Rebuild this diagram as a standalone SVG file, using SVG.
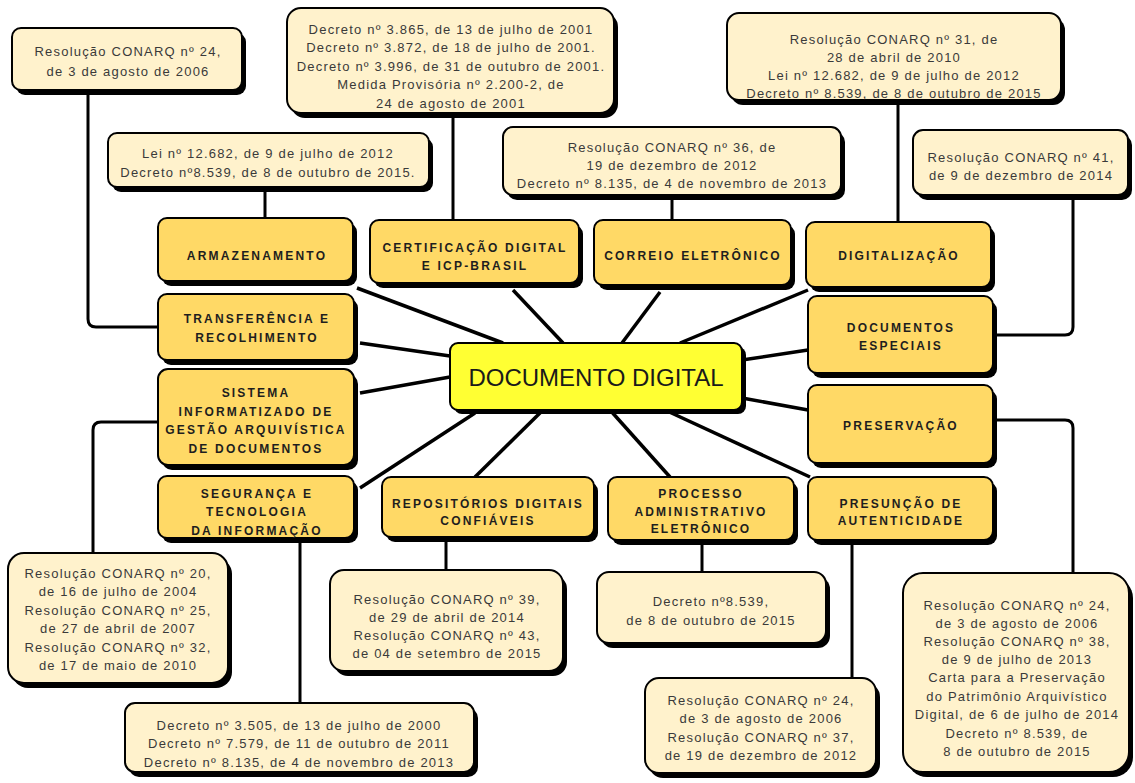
<svg xmlns="http://www.w3.org/2000/svg" width="1135" height="783" viewBox="0 0 1135 783">
<style>
.sh{fill:#000}
.cat{fill:#FFD966;stroke:#000;stroke-width:2}
.law{fill:#FFF2CC;stroke:#000;stroke-width:2}
.ctr{fill:#FFFF33;stroke:#000;stroke-width:2}
.ct{font-family:"Liberation Sans",Arial,sans-serif;font-size:12px;font-weight:bold;fill:#1e1e1e;text-anchor:middle;letter-spacing:2.2px}
.lt{font-family:"Liberation Sans",Arial,sans-serif;font-size:13px;fill:#3a3a3a;text-anchor:middle;letter-spacing:1.2px}
.mt{font-family:"Liberation Sans",Arial,sans-serif;font-size:24px;fill:#1a1a1a;text-anchor:middle}
.sp{stroke:#000;stroke-width:3.5;fill:none}
.el{stroke:#000;stroke-width:3;fill:none}
</style>
<rect width="1135" height="783" fill="#fff"/>
<g id="connectors">
<line class="sp" x1="357" y1="288" x2="503" y2="343"/>
<line class="sp" x1="360" y1="343" x2="450" y2="356"/>
<line class="sp" x1="513" y1="290" x2="563" y2="343"/>
<line class="sp" x1="660" y1="292" x2="622" y2="343"/>
<line class="sp" x1="808" y1="290" x2="680" y2="343"/>
<line class="sp" x1="742" y1="360" x2="808" y2="350"/>
<line class="sp" x1="742" y1="398" x2="808" y2="410"/>
<line class="sp" x1="665" y1="410" x2="810" y2="477"/>
<line class="sp" x1="610" y1="410" x2="670" y2="477"/>
<line class="sp" x1="543" y1="410" x2="475" y2="477"/>
<line class="sp" x1="475" y1="413" x2="360" y2="488"/>
<line class="sp" x1="450" y1="377" x2="360" y2="393"/>
<path class="el" d="M88 95 V319 Q88 327 96 327 H158"/>
<path class="el" d="M265 192 V218"/>
<path class="el" d="M453 118 V220"/>
<path class="el" d="M672 200 V220"/>
<path class="el" d="M898 105 V222"/>
<path class="el" d="M1073 200 V327 Q1073 335 1065 335 H997"/>
<path class="el" d="M997 420 H1065 Q1073 420 1073 428 V573"/>
<path class="el" d="M158 422 H101 Q93 422 93 430 V553"/>
<path class="el" d="M300 543 V703"/>
<path class="el" d="M446 540 V570"/>
<path class="el" d="M702 543 V572"/>
<path class="el" d="M852 543 V678"/>
</g>
<g id="center">
<rect class="sh" x="454" y="347" width="292" height="67" rx="8"/>
<rect class="ctr" x="450" y="343" width="292" height="67" rx="8"/>
<text class="mt" x="596" y="386">DOCUMENTO DIGITAL</text>
</g>
<g id="armazenamento">
<rect class="sh" x="162" y="223" width="195" height="63" rx="9"/>
<rect class="cat" x="158" y="218" width="195" height="63" rx="9"/>
<text class="ct" x="257" y="259.5">ARMAZENAMENTO</text>
</g>
<g id="certificacao">
<rect class="sh" x="374" y="225" width="209" height="63" rx="9"/>
<rect class="cat" x="370" y="220" width="209" height="63" rx="9"/>
<text class="ct" x="475" y="251.5">CERTIFICAÇÃO DIGITAL</text>
<text class="ct" x="475" y="269.5">E ICP-BRASIL</text>
</g>
<g id="correio">
<rect class="sh" x="598" y="225" width="197" height="65" rx="9"/>
<rect class="cat" x="594" y="220" width="197" height="65" rx="9"/>
<text class="ct" x="693" y="259.5">CORREIO ELETRÔNICO</text>
</g>
<g id="digitalizacao">
<rect class="sh" x="810" y="227" width="185" height="65" rx="9"/>
<rect class="cat" x="806" y="222" width="185" height="65" rx="9"/>
<text class="ct" x="899" y="259.5">DIGITALIZAÇÃO</text>
</g>
<g id="transferencia">
<rect class="sh" x="162" y="299" width="196" height="66" rx="9"/>
<rect class="cat" x="158" y="294" width="196" height="66" rx="9"/>
<text class="ct" x="257" y="322.5">TRANSFERÊNCIA E</text>
<text class="ct" x="257" y="341.5">RECOLHIMENTO</text>
</g>
<g id="documentos-especiais">
<rect class="sh" x="812" y="301" width="185" height="77" rx="9"/>
<rect class="cat" x="808" y="296" width="185" height="77" rx="9"/>
<text class="ct" x="901" y="331.5">DOCUMENTOS</text>
<text class="ct" x="901" y="349.5">ESPECIAIS</text>
</g>
<g id="sistema">
<rect class="sh" x="162" y="374" width="196" height="96" rx="10"/>
<rect class="cat" x="158" y="369" width="196" height="96" rx="10"/>
<text class="ct" x="256" y="397">SISTEMA</text>
<text class="ct" x="256" y="415.5">INFORMATIZADO DE</text>
<text class="ct" x="256" y="434">GESTÃO ARQUIVÍSTICA</text>
<text class="ct" x="256" y="452.5">DE DOCUMENTOS</text>
</g>
<g id="preservacao">
<rect class="sh" x="812" y="390" width="185" height="78" rx="9"/>
<rect class="cat" x="808" y="385" width="185" height="78" rx="9"/>
<text class="ct" x="901" y="429.5">PRESERVAÇÃO</text>
</g>
<g id="seguranca">
<rect class="sh" x="162" y="481" width="196" height="62" rx="9"/>
<rect class="cat" x="158" y="476" width="196" height="62" rx="9"/>
<text class="ct" x="257" y="497.5">SEGURANÇA E</text>
<text class="ct" x="257" y="516">TECNOLOGIA</text>
<text class="ct" x="257" y="534.5">DA INFORMAÇÃO</text>
</g>
<g id="repositorios">
<rect class="sh" x="386" y="482" width="212" height="60" rx="9"/>
<rect class="cat" x="382" y="477" width="212" height="60" rx="9"/>
<text class="ct" x="488" y="507.5">REPOSITÓRIOS DIGITAIS</text>
<text class="ct" x="488" y="524.5">CONFIÁVEIS</text>
</g>
<g id="processo">
<rect class="sh" x="612" y="482" width="186" height="63" rx="9"/>
<rect class="cat" x="608" y="477" width="186" height="63" rx="9"/>
<text class="ct" x="701" y="497.5">PROCESSO</text>
<text class="ct" x="701" y="516">ADMINISTRATIVO</text>
<text class="ct" x="701" y="533">ELETRÔNICO</text>
</g>
<g id="presuncao">
<rect class="sh" x="812" y="482" width="185" height="63" rx="9"/>
<rect class="cat" x="808" y="477" width="185" height="63" rx="9"/>
<text class="ct" x="901" y="507.5">PRESUNÇÃO DE</text>
<text class="ct" x="901" y="524.5">AUTENTICIDADE</text>
</g>
<g id="law-res24-top">
<rect class="sh" x="16" y="33" width="230" height="62" rx="9"/>
<rect class="law" x="12" y="28" width="230" height="62" rx="9"/>
<text class="lt" x="128" y="56">Resolução CONARQ nº 24,</text>
<text class="lt" x="128" y="76">de 3 de agosto de 2006</text>
</g>
<g id="law-decretos-2001">
<rect class="sh" x="291" y="13" width="327" height="105" rx="14"/>
<rect class="law" x="287" y="8" width="327" height="105" rx="14"/>
<text class="lt" x="451" y="33.5">Decreto nº 3.865, de 13 de julho de 2001</text>
<text class="lt" x="451" y="52">Decreto nº 3.872, de 18 de julho de 2001.</text>
<text class="lt" x="451" y="70.5">Decreto nº 3.996, de 31 de outubro de 2001.</text>
<text class="lt" x="451" y="89">Medida Provisória nº 2.200-2, de</text>
<text class="lt" x="451" y="107.5">24 de agosto de 2001</text>
</g>
<g id="law-res31">
<rect class="sh" x="731" y="18" width="334" height="87" rx="12"/>
<rect class="law" x="727" y="13" width="334" height="87" rx="12"/>
<text class="lt" x="894" y="43.5">Resolução CONARQ nº 31, de</text>
<text class="lt" x="894" y="61.5">28 de abril de 2010</text>
<text class="lt" x="894" y="79.5">Lei nº 12.682, de 9 de julho de 2012</text>
<text class="lt" x="894" y="97.5">Decreto nº 8.539, de 8 de outubro de 2015</text>
</g>
<g id="law-lei12682">
<rect class="sh" x="112" y="138" width="321" height="54" rx="9"/>
<rect class="law" x="108" y="133" width="321" height="54" rx="9"/>
<text class="lt" x="268" y="157.5">Lei nº 12.682, de 9 de julho de 2012</text>
<text class="lt" x="268" y="176.5">Decreto nº8.539, de 8 de outubro de 2015.</text>
</g>
<g id="law-res36">
<rect class="sh" x="507" y="132" width="338" height="68" rx="10"/>
<rect class="law" x="503" y="127" width="338" height="68" rx="10"/>
<text class="lt" x="672" y="151.5">Resolução CONARQ nº 36, de</text>
<text class="lt" x="672" y="169.5">19 de dezembro de 2012</text>
<text class="lt" x="672" y="187.5">Decreto nº 8.135, de 4 de novembro de 2013</text>
</g>
<g id="law-res41">
<rect class="sh" x="917" y="135" width="215" height="65" rx="10"/>
<rect class="law" x="913" y="130" width="215" height="65" rx="10"/>
<text class="lt" x="1021" y="161.5">Resolução CONARQ nº 41,</text>
<text class="lt" x="1021" y="179.5">de 9 de dezembro de 2014</text>
</g>
<g id="law-res20">
<rect class="sh" x="12" y="558" width="220" height="130" rx="16"/>
<rect class="law" x="8" y="553" width="220" height="130" rx="16"/>
<text class="lt" x="118" y="577.5">Resolução CONARQ nº 20,</text>
<text class="lt" x="118" y="596">de 16 de julho de 2004</text>
<text class="lt" x="118" y="614.5">Resolução CONARQ nº 25,</text>
<text class="lt" x="118" y="633">de 27 de abril de 2007</text>
<text class="lt" x="118" y="651.5">Resolução CONARQ nº 32,</text>
<text class="lt" x="118" y="670">de 17 de maio de 2010</text>
</g>
<g id="law-res39">
<rect class="sh" x="334" y="575" width="233" height="101" rx="14"/>
<rect class="law" x="330" y="570" width="233" height="101" rx="14"/>
<text class="lt" x="447" y="604">Resolução CONARQ nº 39,</text>
<text class="lt" x="447" y="622">de 29 de abril de 2014</text>
<text class="lt" x="447" y="640">Resolução CONARQ nº 43,</text>
<text class="lt" x="447" y="658">de 04 de setembro de 2015</text>
</g>
<g id="law-dec8539">
<rect class="sh" x="601" y="577" width="229" height="71" rx="12"/>
<rect class="law" x="597" y="572" width="229" height="71" rx="12"/>
<text class="lt" x="711" y="606">Decreto nº8.539,</text>
<text class="lt" x="711" y="625">de 8 de outubro de 2015</text>
</g>
<g id="law-dec3505">
<rect class="sh" x="129" y="708" width="349" height="69" rx="10"/>
<rect class="law" x="125" y="703" width="349" height="69" rx="10"/>
<text class="lt" x="299" y="729.5">Decreto nº 3.505, de 13 de julho de 2000</text>
<text class="lt" x="299" y="748">Decreto nº 7.579, de 11 de outubro de 2011</text>
<text class="lt" x="299" y="766.5">Decreto nº 8.135, de 4 de novembro de 2013</text>
</g>
<g id="law-res24-37">
<rect class="sh" x="649" y="683" width="231" height="95" rx="14"/>
<rect class="law" x="645" y="678" width="231" height="95" rx="14"/>
<text class="lt" x="761" y="704.5">Resolução CONARQ nº 24,</text>
<text class="lt" x="761" y="723">de 3 de agosto de 2006</text>
<text class="lt" x="761" y="741.5">Resolução CONARQ nº 37,</text>
<text class="lt" x="761" y="760">de 19 de dezembro de 2012</text>
</g>
<g id="law-res24-38">
<rect class="sh" x="907" y="578" width="226" height="199" rx="20"/>
<rect class="law" x="903" y="573" width="226" height="199" rx="20"/>
<text class="lt" x="1017" y="609.5">Resolução CONARQ nº 24,</text>
<text class="lt" x="1017" y="627.5">de 3 de agosto de 2006</text>
<text class="lt" x="1017" y="645.5">Resolução CONARQ nº 38,</text>
<text class="lt" x="1017" y="663.5">de 9 de julho de 2013</text>
<text class="lt" x="1017" y="682">Carta para a Preservação</text>
<text class="lt" x="1017" y="700.5">do Patrimônio Arquivístico</text>
<text class="lt" x="1017" y="719">Digital, de 6 de julho de 2014</text>
<text class="lt" x="1017" y="737.5">Decreto nº 8.539, de</text>
<text class="lt" x="1017" y="756">8 de outubro de 2015</text>
</g>
</svg>
